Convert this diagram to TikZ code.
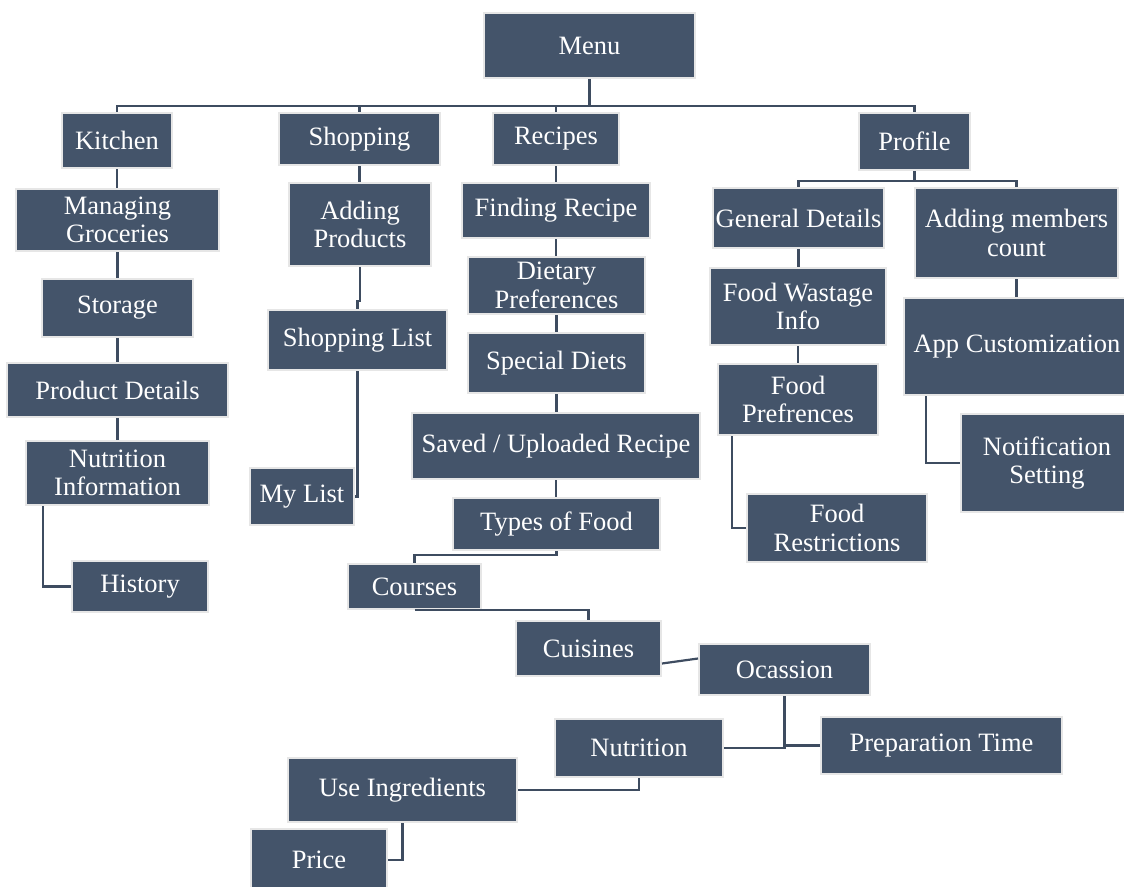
\documentclass[tikz,border=0pt]{standalone}
\usepackage{fontspec}
\setmainfont{Liberation Serif}
\definecolor{boxfill}{HTML}{44546A}
\definecolor{boxedge}{HTML}{E6E6E6}
\definecolor{conn}{HTML}{3E4C60}
\newcommand\mybox[6]{\node[box, minimum width=#4pt, minimum height=#5pt] (#1) at (#2,#3) {#6};}
\begin{document}
\begin{tikzpicture}[x=1pt,y=-1pt,
  box/.style={draw=boxedge, line width=2pt, fill=boxfill, text=white, align=center, inner sep=0pt,
    font=\fontsize{26.5}{28.5}\selectfont},
  link/.style={draw=conn, line width=2.2pt}]
\useasboundingbox (0,0) rectangle (1124,886);
% top level
\mybox{Menu}{589.5}{45.5}{211}{65}{Menu}
\mybox{Kitchen}{117}{140.5}{110}{55}{Kitchen}
\mybox{Shopping}{359.5}{139}{161}{52}{Shopping}
\mybox{Recipes}{556}{139}{126}{52}{Recipes}
\mybox{Profile}{914.5}{141.5}{111}{57}{Profile}
% kitchen column
\mybox{Groceries}{117.5}{220}{203}{62}{Managing\\Groceries}
\mybox{Storage}{117.5}{308}{151}{58}{Storage}
\mybox{ProdDet}{117.5}{390}{221}{54}{Product Details}
\mybox{NutrInfo}{117.5}{473}{183}{64}{Nutrition\\Information}
\mybox{History}{140}{586.5}{136}{51}{History}
% shopping column
\mybox{AddProd}{360}{224.5}{142}{83}{Adding\\Products}
\mybox{ShopList}{357.5}{340}{179}{60}{Shopping List}
\mybox{MyList}{302}{496.5}{104}{57}{My List}
% recipes column
\mybox{FindRec}{556}{210.5}{188}{55}{Finding Recipe}
\mybox{Dietary}{556.5}{285.5}{177}{57}{Dietary\\Preferences}
\mybox{Special}{556.5}{363}{177}{60}{Special Diets}
\mybox{Saved}{556}{446}{288}{66}{Saved / Uploaded Recipe}
\mybox{Types}{556.5}{524}{207}{52}{Types of Food}
\mybox{Courses}{414.5}{586.5}{133}{45}{Courses}
\mybox{Cuisines}{588.5}{648.5}{145}{55}{Cuisines}
\mybox{Ocassion}{784.5}{669.5}{171}{51}{Ocassion}
\mybox{PrepTime}{941.5}{745.5}{241}{57}{Preparation Time}
\mybox{Nutrition}{639}{748}{168}{58}{Nutrition}
\mybox{UseIng}{402.5}{790}{229}{64}{Use Ingredients}
\mybox{Price}{319}{860}{136}{62}{Price}
% profile column
\mybox{General}{798.5}{218}{171}{60}{General Details}
\mybox{Members}{1016.5}{233}{203}{90}{Adding members\\count}
\mybox{Wastage}{798}{306.5}{176}{77}{Food Wastage\\Info}
\mybox{FoodPref}{798}{399.5}{160}{71}{Food\\Prefrences}
\mybox{FoodRestr}{837}{528}{180}{68}{Food\\Restrictions}
\mybox{AppCust}{1017}{346.5}{226}{97}{App Customization}
\mybox{Notif}{1047}{463}{172}{98}{Notification\\Setting}
% connectors
\draw[link] (Menu.south) -- ++(0,27) -| (Kitchen.north);
\draw[link] (Menu.south) -- ++(0,27) -| (Shopping.north);
\draw[link] (Menu.south) -- ++(0,27) -| (Recipes.north);
\draw[link] (Menu.south) -- ++(0,27) -| (Profile.north);
\draw[link] (Kitchen.south) -- (Kitchen.south |- Groceries.north);
\draw[link] (Groceries.south) -- (Groceries.south |- Storage.north);
\draw[link] (Storage.south) -- (Storage.south |- ProdDet.north);
\draw[link] (ProdDet.south) -- (ProdDet.south |- NutrInfo.north);
\draw[link] ([xshift=18pt]NutrInfo.south west) |- (History.west);
\draw[link] (Shopping.south) -- (Shopping.south |- AddProd.north);
\draw[link] (AddProd.south) -- ++(0,34) -| (ShopList.north);
\draw[link] (ShopList.south) |- (MyList.east);
\draw[link] (Recipes.south) -- (Recipes.south |- FindRec.north);
\draw[link] (FindRec.south) -- (FindRec.south |- Dietary.north);
\draw[link] (Dietary.south) -- (Dietary.south |- Special.north);
\draw[link] (Special.south) -- (Special.south |- Saved.north);
\draw[link] (Saved.south) -- (Saved.south |- Types.north);
\draw[link] (Types.south) -- ++(0,4) -| (Courses.north);
\draw[link] (Courses.south) -| (Cuisines.north);
\draw[link] ([yshift=-15pt]Cuisines.east) -- ([yshift=11pt]Ocassion.west);
\draw[link] (Ocassion.south) |- (Nutrition.east);
\draw[link] (Ocassion.south) |- (PrepTime.west);
\draw[link] (Nutrition.south) |- (UseIng.east);
\draw[link] (UseIng.south) |- (Price.east);
\draw[link] (Profile.south) -- ++(0,10) -| (General.north);
\draw[link] (Profile.south) -- ++(0,10) -| (Members.north);
\draw[link] (General.south) -- (General.south |- Wastage.north);
\draw[link] (Wastage.south) -- (Wastage.south |- FoodPref.north);
\draw[link] ([xshift=15pt]FoodPref.south west) |- (FoodRestr.west);
\draw[link] (Members.south) -- (Members.south |- AppCust.north);
\draw[link] ([xshift=23pt]AppCust.south west) |- (Notif.west);
\end{tikzpicture}
\end{document}
